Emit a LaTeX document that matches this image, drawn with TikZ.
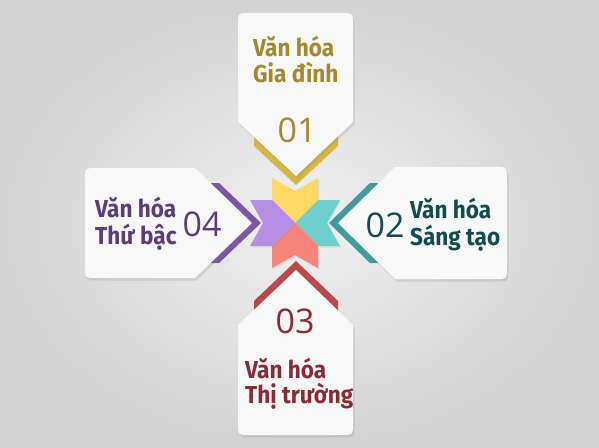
\documentclass[tikz,border=0pt]{standalone}
\usepackage{fontspec}
\usetikzlibrary{shadows}
\newfontfamily\cardfont[FakeStretch=0.92]{Fira Sans}
\newfontfamily\numfont{Open Sans}

\definecolor{bgin}{HTML}{F1F1F1}
\definecolor{bgout}{HTML}{D3D3D3}
\definecolor{cardwhite}{HTML}{F8F8F8}
\definecolor{goldtext}{HTML}{A5882C}
\definecolor{goldband}{HTML}{D6B645}
\definecolor{tealtext}{HTML}{104C4E}
\definecolor{tealband}{HTML}{3F9C9A}
\definecolor{redtext}{HTML}{8A2B34}
\definecolor{redband}{HTML}{B9494A}
\definecolor{purpletext}{HTML}{5C3B79}
\definecolor{purpleband}{HTML}{7C55A7}
\definecolor{staryellow}{HTML}{FFD866}
\definecolor{starteal}{HTML}{6FCFCD}
\definecolor{starsalmon}{HTML}{F6847B}
\definecolor{starlilac}{HTML}{B48DE4}

\begin{document}
\begin{tikzpicture}[x=1pt,y=-1pt,
  card/.style={fill=cardwhite,drop shadow={opacity=0.2,shadow xshift=1.5pt,shadow yshift=-2.5pt}},
  piece/.style={drop shadow={opacity=0.15,shadow xshift=1pt,shadow yshift=-1.5pt}},
  title/.style={anchor=base west,inner sep=0pt,font=\cardfont\bfseries\fontsize{24.5}{26}\selectfont},
  number/.style={inner sep=0pt,font=\numfont\fontsize{34}{34}\selectfont}]

  \useasboundingbox (0,0) rectangle (599,447);
  \shade[inner color=bgin,outer color=bgout] (0,0) rectangle (599,447);

  % bands behind the cards
  \fill[goldband]   (254,132) -- (254,146) -- (296,185) -- (338,146) -- (338,132) -- (296,170) -- cycle;
  \fill[purpleband] (205,183) -- (219,183) -- (261,223) -- (219,263) -- (205,263) -- (246,223) -- cycle;
  \fill[tealband]   (384,183) -- (370,183) -- (329,223) -- (370,263) -- (384,263) -- (344,223) -- cycle;
  \fill[redband]    (254,315) -- (254,301) -- (296,261) -- (338,301) -- (338,315) -- (296,276) -- cycle;

  % cards
  \path[card] (238,122) -- (238,25) .. controls (238,13) .. (250,13) -- (341,13)
    .. controls (353,13) .. (353,25) -- (353,122) -- (296,176) -- cycle;
  \path[card] (195,168) -- (97,168) .. controls (85,168) .. (85,180) -- (85,266)
    .. controls (85,278) .. (97,278) -- (195,278) -- (252,223) -- cycle;
  \path[card] (395,167) -- (495,167) .. controls (507,167) .. (507,179) -- (507,267)
    .. controls (507,279) .. (495,279) -- (395,279) -- (338,223) -- cycle;
  \path[card] (296,270) -- (353,325) -- (353,423) .. controls (353,435) .. (341,435)
    -- (250,435) .. controls (238,435) .. (238,423) -- (238,325) -- cycle;

  % centre star
  \path[piece,fill=staryellow] (272,178) -- (295,191) -- (318,178) -- (318,200) -- (295,223) -- (272,200) -- cycle;
  \path[piece,fill=starteal]   (340,200) -- (327,223) -- (340,246) -- (318,246) -- (295,223) -- (318,200) -- cycle;
  \path[piece,fill=starsalmon] (318,268) -- (295,255) -- (272,268) -- (272,246) -- (295,223) -- (318,246) -- cycle;
  \path[piece,fill=starlilac]  (250,246) -- (263,223) -- (250,200) -- (272,200) -- (295,223) -- (272,246) -- cycle;

  % texts
  \node[title,text=goldtext]   (gia1) at (253,56)  {Văn hóa};
  \node[title,text=goldtext]   (gia2) at (253,82)  {Gia đình};
  \node[number,text=goldtext]  (n01)  at (297,130) {01};

  \node[title,text=tealtext]   (sang1) at (410,218) {Văn hóa};
  \node[title,text=tealtext]   (sang2) at (410,245) {Sáng tạo};
  \node[number,text=tealtext]  (n02)   at (385,225) {02};

  \node[number,text=redtext]   (n03)  at (295,321) {03};
  \node[title,text=redtext]    (thi1) at (245,378) {Văn hóa};
  \node[title,text=redtext]    (thi2) at (245,403) {Thị trường};

  \node[title,text=purpletext] (thu1) at (95,217)  {Văn hóa};
  \node[title,text=purpletext] (thu2) at (95,244)  {Thứ bậc};
  \node[number,text=purpletext] (n04) at (202,224) {04};
\end{tikzpicture}
\end{document}
